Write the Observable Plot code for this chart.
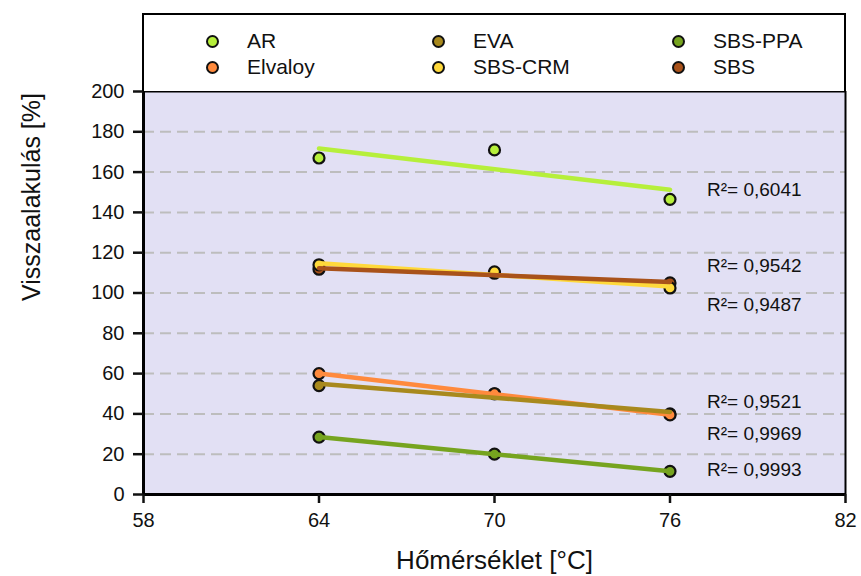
<!DOCTYPE html>
<html>
<head>
<meta charset="utf-8">
<script src="https://cdn.jsdelivr.net/npm/d3@7"></script>
<script src="https://cdn.jsdelivr.net/npm/@observablehq/plot@0.6"></script>
<style>
  html, body { margin: 0; padding: 0; background: #ffffff; }
  #wrap { position: relative; width: 861px; height: 576px; font-family: "Liberation Sans", Arial, sans-serif; }
  #chart { position: absolute; left: 0; top: 0; }
  #legend { position: absolute; left: 142px; top: 13px; width: 700px; height: 76px; border: 2px solid #000; border-bottom: none; background: #fff; }
  .item { position: absolute; font-size: 21px; color: #111; display: flex; align-items: center; }
  .sw { width: 9px; height: 9px; border-radius: 50%; border: 2px solid #111; margin-right: 28px; }
</style>
</head>
<body>
<div id="wrap">
  <div id="chart"></div>
  <div id="legend"></div>
</div>
<script>
// ---- data ----
const temps = [64, 70, 76];
const seriesNames = ["AR", "Elvaloy", "EVA", "SBS-CRM", "SBS-PPA", "SBS"];
const seriesColors = ["#b6ef3b", "#ff8a3d", "#a8891d", "#ffd93b", "#76a41f", "#a9521a"];
const arValues = [167, 171, 146.5];
const elvaloyValues = [60, 50, 39.5];
const evaValues = [54, 50, 40];
const sbsCrmValues = [114, 110.5, 102.5];
const sbsPpaValues = [28.5, 20, 11.5];
const sbsValues = [111.8, 109.8, 105];
const r2Texts = ["0,6041", "0,9542", "0,9487", "0,9521", "0,9969", "0,9993"];
const r2LabelY = [151, 113.5, 94, 46, 30, 12];
const xTicks = [58, 64, 70, 76, 82];
const yTicks = [0, 20, 40, 60, 80, 100, 120, 140, 160, 180, 200];

const valuesBySeries = {
  "AR": arValues, "Elvaloy": elvaloyValues, "EVA": evaValues,
  "SBS-CRM": sbsCrmValues, "SBS-PPA": sbsPpaValues, "SBS": sbsValues
};
const dotOrder = ["AR", "SBS", "SBS-CRM", "EVA", "Elvaloy", "SBS-PPA"];
const lineOrder = ["AR", "SBS-CRM", "SBS", "Elvaloy", "EVA", "SBS-PPA"];
const toRows = order => {
  const out = [];
  for (const s of order) valuesBySeries[s].forEach((v, i) => out.push({series: s, t: temps[i], v}));
  return out;
};
const dotRows = toRows(dotOrder);
const lineRows = toRows(lineOrder);
const r2Rows = r2Texts.map((t, i) => ({label: "R\u00B2= " + t, y: r2LabelY[i]}));

const font = "'Liberation Sans', Arial, sans-serif";

const chart = Plot.plot({
  width: 861,
  height: 576,
  marginLeft: 143,
  marginRight: 16,
  marginTop: 91,
  marginBottom: 82,
  style: {fontFamily: font, background: "transparent", color: "#111"},
  x: {domain: [58, 82], ticks: xTicks},
  y: {domain: [0, 200], ticks: yTicks},
  color: {domain: seriesNames, range: seriesColors},
  marks: [
    Plot.frame({fill: "#e2e0f4", stroke: null}),
    Plot.gridY(yTicks.slice(1, -1), {stroke: "#bdbdbd", strokeOpacity: 1, strokeWidth: 2, strokeDasharray: "11,6"}),
    Plot.dot(dotRows, {x: "t", y: "v", fill: "series", stroke: "#111", strokeWidth: 2.2, r: 5.5}),
    Plot.linearRegressionY(lineRows, {x: "t", y: "v", z: "series", stroke: "series", strokeWidth: 4.5, ci: 0}),
    Plot.text(r2Rows, {x: 76, y: "y", text: "label", dx: 37, textAnchor: "start", fontSize: 19, fill: "#111"}),
    Plot.ruleX([58], {stroke: "#000", strokeWidth: 3}),
    Plot.ruleX([82], {stroke: "#000", strokeWidth: 2}),
    Plot.ruleY([0], {stroke: "#000", strokeWidth: 3}),
    Plot.ruleY([200], {stroke: "#000", strokeWidth: 2}),
    Plot.axisY(yTicks, {tickSize: 10, tickPadding: 9, fontSize: 20, strokeWidth: 2.5, label: null}),
    Plot.axisX(xTicks, {tickSize: 9, tickPadding: 9, fontSize: 20, strokeWidth: 2.5, label: null}),
    Plot.text(["Visszaalakulás [%]"], {frameAnchor: "left", dx: -112, dy: 8, rotate: -90, fontSize: 25, fill: "#111"}),
    Plot.text(["Hőmérséklet [°C]"], {frameAnchor: "bottom", lineAnchor: "middle", dy: 66, fontSize: 26, fill: "#111"})
  ]
});
document.getElementById("chart").appendChild(chart);

// ---- legend ----
const legend = document.getElementById("legend");
const colXs = [62, 288, 528];
const rowYs = [27, 53];
const legendLayout = [["AR", 0, 0], ["EVA", 1, 0], ["SBS-PPA", 2, 0], ["Elvaloy", 0, 1], ["SBS-CRM", 1, 1], ["SBS", 2, 1]];
for (const [name, c, r] of legendLayout) {
  const d = document.createElement("div");
  d.className = "item";
  d.style.left = colXs[c] + "px";
  d.style.top = (rowYs[r] - 13) + "px";
  const sw = document.createElement("span");
  sw.className = "sw";
  sw.style.background = seriesColors[seriesNames.indexOf(name)];
  d.appendChild(sw);
  d.appendChild(document.createTextNode(name));
  legend.appendChild(d);
}
</script>
</body>
</html>
